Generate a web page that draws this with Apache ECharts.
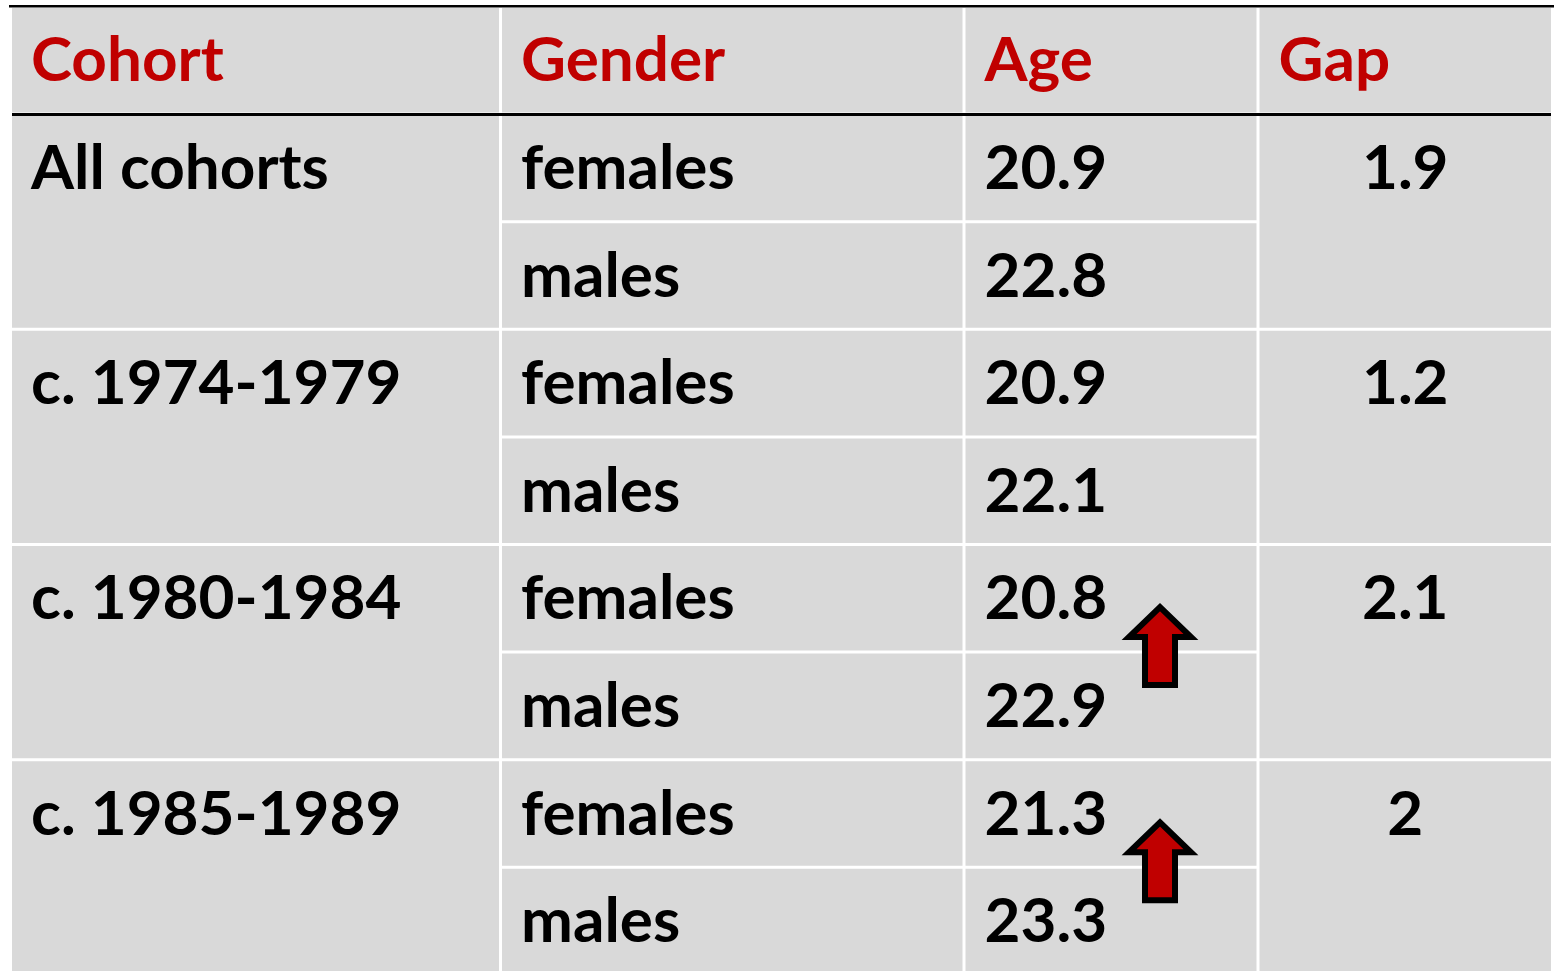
<!DOCTYPE html>
<html>
<head>
<meta charset="utf-8">
<script src="https://cdn.jsdelivr.net/npm/echarts@6/dist/echarts.min.js"></script>
<style>
html,body{margin:0;padding:0;background:#fff;}
#chart{width:1554px;height:971px;}
</style>
</head>
<body>
<div id="chart"></div>
<script>
// ---- data ----
const headers = ['Cohort', 'Gender', 'Age', 'Gap'];
const cohorts = ['All cohorts', 'c. 1974-1979', 'c. 1980-1984', 'c. 1985-1989'];
const genders = ['females', 'males'];
const femaleAge = [20.9, 20.9, 20.8, 21.3];
const maleAge = [22.8, 22.1, 22.9, 23.3];
const gap = [1.9, 1.2, 2.1, 2];
const increased = [false, false, true, true];

// ---- layout (not data) ----
const colWidths = [490, 463.5, 294, 294.5];
const colEdges = [0];
colWidths.forEach(w => colEdges.push(colEdges[colEdges.length - 1] + w));
const totalW = colEdges[colEdges.length - 1];
const nRows = 1 + cohorts.length * 2;
const FONT = 'Lato, "Open Sans", sans-serif';
const FS = 62;
const PAD = 19;
const GRAY = '#d9d9d9';
const RED = '#c00000';

// build cells from the data arrays
const cells = [];
headers.forEach((h, c) => cells.push({col: c, r0: 0, r1: 1, text: h, color: RED, align: 'left'}));
cohorts.forEach((name, g) => {
  const r = 1 + 2 * g;
  cells.push({col: 0, r0: r, r1: r + 2, text: name, color: '#000', align: 'left'});
  cells.push({col: 1, r0: r, r1: r + 1, text: genders[0], color: '#000', align: 'left'});
  cells.push({col: 1, r0: r + 1, r1: r + 2, text: genders[1], color: '#000', align: 'left'});
  cells.push({col: 2, r0: r, r1: r + 1, text: femaleAge[g].toFixed(1), color: '#000', align: 'left'});
  cells.push({col: 2, r0: r + 1, r1: r + 2, text: maleAge[g].toFixed(1), color: '#000', align: 'left'});
  cells.push({col: 3, r0: r, r1: r + 2, text: String(gap[g]), color: '#000', align: 'center'});
});

const arrowData = [];
increased.forEach((inc, g) => { if (inc) arrowData.push([colEdges[2] + 196, 2 + 2 * g]); });

const chart = echarts.init(document.getElementById('chart'), null, {renderer: 'canvas'});

function renderCell(params, api) {
  const c = cells[params.dataIndex];
  const a = api.coord([api.value(0), api.value(1)]);
  const b = api.coord([api.value(2), api.value(3)]);
  const ty = api.coord([0, c.r0 + 0.5])[1] + 1;
  const tx = c.align === 'center' ? (a[0] + b[0]) / 2 : a[0] + 1.5 + PAD;
  return {
    type: 'group',
    children: [
      {type: 'rect', shape: {x: a[0] + 1.5, y: a[1] + 1.5, width: b[0] - a[0] - 3, height: b[1] - a[1] - 3},
       style: {fill: GRAY}},
      {type: 'text', style: {text: c.text, x: tx, y: ty, fill: c.color, fontFamily: FONT, fontWeight: 'bold',
        fontSize: FS, align: c.align, verticalAlign: 'middle'}}
    ]
  };
}

function renderRule(params, api) {
  const row = api.value(1);
  const y = api.coord([0, row])[1];
  const x0 = api.coord([0, row])[0];
  const x1 = api.coord([totalW, row])[0];
  const top = params.dataIndex === 0;
  return {
    type: 'line',
    shape: {x1: top ? x0 - 1.5 : x0 + 1.5, y1: top ? y - 0.3 : y + 0.4, x2: top ? x1 + 5 : x1 - 1.5, y2: top ? y - 0.3 : y + 0.4},
    style: {stroke: '#000', lineWidth: top ? 2.6 : 2.8}
  };
}

function renderArrow(params, api) {
  const p = api.coord([api.value(0), api.value(1)]);
  const cx = p[0], cy = p[1] - 6;
  const pts = [[0, -39], [31, -9], [15, -9], [15, 39], [-15, 39], [-15, -9], [-31, -9]]
    .map(q => [cx + q[0], cy + q[1]]);
  return {type: 'polygon', shape: {points: pts},
    style: {fill: RED, stroke: '#000', lineWidth: 6, lineJoin: 'miter'}};
}

chart.setOption({
  animation: false,
  backgroundColor: '#fff',
  grid: {left: 10.5, top: 6.5, width: totalW, height: 968.4, containLabel: false, outerBoundsMode: 'none'},
  xAxis: {type: 'value', min: 0, max: totalW, show: false},
  yAxis: {type: 'value', min: 0, max: nRows, inverse: true, show: false},
  series: [
    {type: 'custom', name: 'cells', renderItem: renderCell, clip: false,
     encode: {x: [0, 2], y: [1, 3]},
     data: cells.map(c => [colEdges[c.col], c.r0, colEdges[c.col + 1], c.r1])},
    {type: 'custom', name: 'rules', renderItem: renderRule, clip: false,
     encode: {x: 0, y: 1}, data: [[0, 0], [0, 1]]},
    {type: 'custom', name: 'arrows', renderItem: renderArrow, clip: false,
     encode: {x: 0, y: 1}, data: arrowData}
  ]
});
</script>
</body>
</html>
